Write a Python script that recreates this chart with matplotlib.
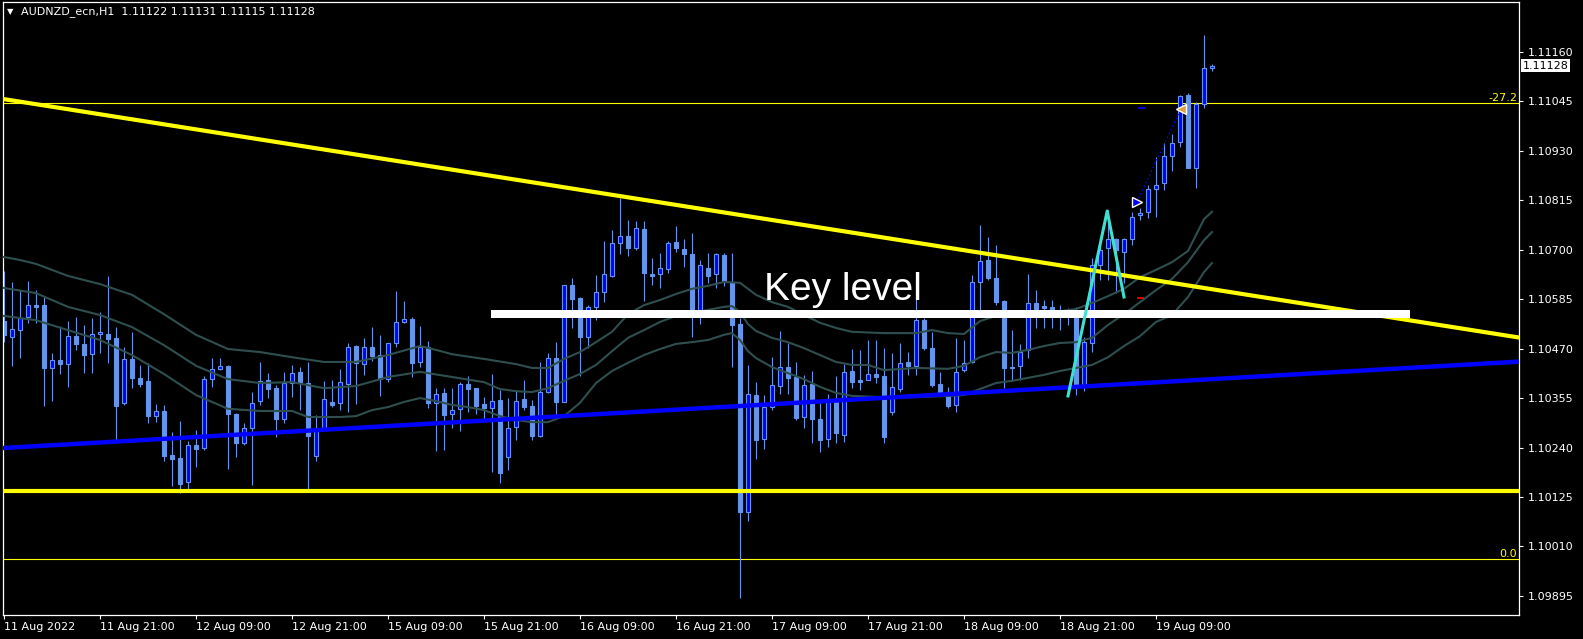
import matplotlib
matplotlib.use("Agg")
import matplotlib.pyplot as plt
from matplotlib.patches import Rectangle

# AUDNZD_ecn H1 bars (index 0 = 11 Aug 2022 09:00)
opens = [1.10534, 1.10497, 1.10513, 1.10543, 1.10571, 1.10571, 1.10424, 1.10443, 1.10434, 1.10499,
         1.10481, 1.10457, 1.10504, 1.10504, 1.10494, 1.10343, 1.10445, 1.10401, 1.10395, 1.10313,
         1.10325, 1.10222, 1.10215, 1.10160, 1.10245, 1.10238, 1.10399, 1.10422, 1.10429, 1.10318,
         1.10250, 1.10285, 1.10348, 1.10397, 1.10378, 1.10306, 1.10390, 1.10415, 1.10390, 1.10220,
         1.10285, 1.10345, 1.10343, 1.10388, 1.10476, 1.10434, 1.10474, 1.10455, 1.10399, 1.10483,
         1.10532, 1.10539, 1.10438, 1.10474, 1.10343, 1.10366, 1.10318, 1.10329, 1.10388, 1.10378,
         1.10341, 1.10331, 1.10350, 1.10218, 1.10287, 1.10352, 1.10336, 1.10266, 1.10369, 1.10448,
         1.10345, 1.10618, 1.10587, 1.10497, 1.10567, 1.10602, 1.10639, 1.10716, 1.10732, 1.10704,
         1.10748, 1.10643, 1.10643, 1.10655, 1.10718, 1.10702, 1.10690, 1.10559, 1.10657, 1.10643,
         1.10688, 1.10625, 1.10527, 1.10090, 1.10362, 1.10259, 1.10334, 1.10383, 1.10427, 1.10404,
         1.10311, 1.10388, 1.10306, 1.10259, 1.10345, 1.10269, 1.10418, 1.10397, 1.10397, 1.10411,
         1.10406, 1.10322, 1.10376, 1.10438, 1.10429, 1.10536, 1.10471, 1.10388, 1.10369, 1.10338,
         1.10420, 1.10438, 1.10625, 1.10676, 1.10634, 1.10580, 1.10427, 1.10429, 1.10466, 1.10576,
         1.10569, 1.10567, 1.10546, 1.10553, 1.10553, 1.10385, 1.10483, 1.10664, 1.10704, 1.10725,
         1.10695, 1.10725, 1.10781, 1.10788, 1.10841, 1.10855, 1.10918, 1.10950, 1.11060, 1.10890,
         1.11039, 1.11122]
highs = [1.10650, 1.10624, 1.10606, 1.10627, 1.10606, 1.10590, 1.10459, 1.10522, 1.10534, 1.10543,
         1.10524, 1.10540, 1.10554, 1.10638, 1.10520, 1.10474, 1.10508, 1.10431, 1.10436, 1.10341,
         1.10338, 1.10275, 1.10302, 1.10255, 1.10280, 1.10406, 1.10447, 1.10447, 1.10431, 1.10320,
         1.10297, 1.10369, 1.10438, 1.10413, 1.10385, 1.10415, 1.10431, 1.10427, 1.10438, 1.10315,
         1.10395, 1.10397, 1.10422, 1.10483, 1.10478, 1.10494, 1.10520, 1.10501, 1.10483, 1.10604,
         1.10580, 1.10543, 1.10522, 1.10488, 1.10378, 1.10378, 1.10378, 1.10392, 1.10406, 1.10378,
         1.10357, 1.10411, 1.10373, 1.10355, 1.10373, 1.10397, 1.10350, 1.10438, 1.10459, 1.10485,
         1.10618, 1.10634, 1.10590, 1.10571, 1.10641, 1.10720, 1.10745, 1.10820, 1.10769, 1.10767,
         1.10767, 1.10681, 1.10692, 1.10720, 1.10755, 1.10725, 1.10739, 1.10676, 1.10692, 1.10692,
         1.10692, 1.10692, 1.10541, 1.10431, 1.10392, 1.10362, 1.10450, 1.10511, 1.10483, 1.10438,
         1.10408, 1.10418, 1.10343, 1.10364, 1.10406, 1.10434, 1.10469, 1.10466, 1.10490, 1.10490,
         1.10471, 1.10459, 1.10483, 1.10462, 1.10634, 1.10541, 1.10508, 1.10415, 1.10381, 1.10494,
         1.10490, 1.10641, 1.10757, 1.10730, 1.10711, 1.10583, 1.10513, 1.10480, 1.10643, 1.10606,
         1.10583, 1.10583, 1.10571, 1.10564, 1.10567, 1.10497, 1.10681, 1.10722, 1.10792, 1.10727,
         1.10727, 1.10788, 1.10797, 1.10850, 1.10915, 1.10948, 1.10969, 1.11060, 1.11064, 1.11043,
         1.11199, 1.11131]
lows = [1.10485, 1.10429, 1.10447, 1.10529, 1.10529, 1.10336, 1.10348, 1.10411, 1.10381, 1.10466,
        1.10413, 1.10413, 1.10459, 1.10436, 1.10257, 1.10338, 1.10378, 1.10381, 1.10297, 1.10299,
        1.10209, 1.10150, 1.10134, 1.10141, 1.10195, 1.10234, 1.10381, 1.10420, 1.10190, 1.10218,
        1.10245, 1.10153, 1.10338, 1.10355, 1.10264, 1.10297, 1.10357, 1.10327, 1.10144, 1.10209,
        1.10280, 1.10334, 1.10327, 1.10322, 1.10341, 1.10408, 1.10441, 1.10359, 1.10392, 1.10474,
        1.10529, 1.10404, 1.10427, 1.10331, 1.10232, 1.10234, 1.10285, 1.10278, 1.10322, 1.10318,
        1.10304, 1.10183, 1.10157, 1.10187, 1.10257, 1.10327, 1.10257, 1.10264, 1.10366, 1.10315,
        1.10345, 1.10518, 1.10406, 1.10471, 1.10536, 1.10578, 1.10636, 1.10690, 1.10685, 1.10699,
        1.10580, 1.10618, 1.10611, 1.10646, 1.10695, 1.10660, 1.10497, 1.10527, 1.10622, 1.10611,
        1.10615, 1.10427, 1.09890, 1.10069, 1.10213, 1.10236, 1.10327, 1.10364, 1.10364, 1.10304,
        1.10285, 1.10250, 1.10229, 1.10241, 1.10250, 1.10253, 1.10378, 1.10373, 1.10397, 1.10390,
        1.10250, 1.10315, 1.10369, 1.10408, 1.10408, 1.10466, 1.10381, 1.10366, 1.10331, 1.10322,
        1.10415, 1.10436, 1.10559, 1.10629, 1.10571, 1.10378, 1.10397, 1.10397, 1.10448, 1.10518,
        1.10518, 1.10518, 1.10513, 1.10525, 1.10362, 1.10371, 1.10462, 1.10629, 1.10629, 1.10599,
        1.10622, 1.10711, 1.10769, 1.10774, 1.10776, 1.10838, 1.10883, 1.10939, 1.10890, 1.10843,
        1.11029, 1.11115]
closes = [1.10501, 1.10515, 1.10540, 1.10571, 1.10567, 1.10424, 1.10443, 1.10434, 1.10499, 1.10481,
          1.10454, 1.10504, 1.10508, 1.10492, 1.10336, 1.10445, 1.10401, 1.10388, 1.10313, 1.10325,
          1.10220, 1.10213, 1.10155, 1.10245, 1.10236, 1.10399, 1.10422, 1.10429, 1.10318, 1.10250,
          1.10285, 1.10343, 1.10395, 1.10376, 1.10306, 1.10390, 1.10413, 1.10392, 1.10266, 1.10285,
          1.10352, 1.10338, 1.10392, 1.10474, 1.10436, 1.10474, 1.10452, 1.10399, 1.10483, 1.10532,
          1.10539, 1.10436, 1.10474, 1.10343, 1.10364, 1.10315, 1.10327, 1.10388, 1.10376, 1.10336,
          1.10331, 1.10348, 1.10180, 1.10285, 1.10348, 1.10334, 1.10266, 1.10369, 1.10448, 1.10345,
          1.10618, 1.10585, 1.10497, 1.10567, 1.10602, 1.10643, 1.10716, 1.10732, 1.10704, 1.10750,
          1.10646, 1.10639, 1.10657, 1.10716, 1.10704, 1.10690, 1.10559, 1.10664, 1.10639, 1.10690,
          1.10625, 1.10525, 1.10090, 1.10364, 1.10257, 1.10334, 1.10385, 1.10427, 1.10401, 1.10308,
          1.10385, 1.10306, 1.10257, 1.10345, 1.10273, 1.10415, 1.10392, 1.10392, 1.10411, 1.10404,
          1.10264, 1.10381, 1.10436, 1.10429, 1.10536, 1.10471, 1.10385, 1.10369, 1.10336, 1.10415,
          1.10436, 1.10625, 1.10674, 1.10634, 1.10578, 1.10424, 1.10424, 1.10462, 1.10576, 1.10562,
          1.10564, 1.10546, 1.10553, 1.10548, 1.10385, 1.10485, 1.10664, 1.10699, 1.10725, 1.10699,
          1.10725, 1.10776, 1.10785, 1.10841, 1.10850, 1.10918, 1.10948, 1.11057, 1.10890, 1.11039,
          1.11122, 1.11128]

xtick_bars = [0, 12, 24, 36, 48, 60, 72, 84, 96, 108, 120, 132, 144]
xtick_labels = ['11 Aug 2022', '11 Aug 21:00', '12 Aug 09:00', '12 Aug 21:00', '15 Aug 09:00',
                '15 Aug 21:00', '16 Aug 09:00', '16 Aug 21:00', '17 Aug 09:00', '17 Aug 21:00',
                '18 Aug 09:00', '18 Aug 21:00', '19 Aug 09:00']
price_ticks = [1.11160, 1.11045, 1.10930, 1.10815, 1.10700, 1.10585,
               1.10470, 1.10355, 1.10240, 1.10125, 1.10010, 1.09895]

# the three grey band lines
upper_bar = [0, 2, 4, 8, 12, 16, 20, 24, 28, 32, 36, 40, 44, 48, 52, 54, 56, 60, 64, 66,
             68, 70, 72, 74, 76, 78, 80, 82, 84, 86, 88, 90, 92, 94, 96, 98, 100, 102, 104, 106,
             110, 114, 116, 118, 120, 122, 124, 126, 128, 130, 132, 134, 136, 138, 140, 142, 144, 146, 148, 150,
             151]
upper_val = [1.10683, 1.10676, 1.10667, 1.10639, 1.10620, 1.10595, 1.10550, 1.10502, 1.10469, 1.10462,
             1.10450, 1.10439, 1.10439, 1.10455, 1.10476, 1.10467, 1.10457, 1.10446, 1.10434, 1.10425,
             1.10425, 1.10446, 1.10462, 1.10485, 1.10509, 1.10550, 1.10571, 1.10583, 1.10597, 1.10609,
             1.10616, 1.10625, 1.10623, 1.10595, 1.10578, 1.10567, 1.10548, 1.10530, 1.10518, 1.10509,
             1.10506, 1.10506, 1.10513, 1.10506, 1.10504, 1.10534, 1.10546, 1.10548, 1.10550, 1.10555,
             1.10557, 1.10562, 1.10576, 1.10592, 1.10609, 1.10636, 1.10653, 1.10671, 1.10697, 1.10771,
             1.10788]
mid_bar = [0, 4, 8, 12, 16, 20, 24, 28, 32, 36, 40, 44, 48, 52, 56, 60, 62, 64, 66, 68,
           70, 72, 74, 76, 78, 80, 82, 84, 86, 88, 90, 91, 92, 93, 94, 96, 98, 100, 102, 104,
           106, 108, 110, 114, 118, 120, 122, 124, 126, 128, 130, 132, 134, 136, 138, 140, 142, 144, 146, 148,
           150, 151]
mid_val = [1.10611, 1.10599, 1.10567, 1.10548, 1.10520, 1.10478, 1.10430, 1.10399, 1.10390, 1.10392,
           1.10378, 1.10383, 1.10404, 1.10416, 1.10404, 1.10392, 1.10376, 1.10371, 1.10369, 1.10378,
           1.10395, 1.10411, 1.10432, 1.10464, 1.10495, 1.10513, 1.10532, 1.10546, 1.10553, 1.10560,
           1.10567, 1.10569, 1.10555, 1.10527, 1.10511, 1.10495, 1.10485, 1.10471, 1.10455, 1.10439,
           1.10432, 1.10432, 1.10420, 1.10425, 1.10423, 1.10430, 1.10450, 1.10462, 1.10460, 1.10467,
           1.10476, 1.10483, 1.10485, 1.10495, 1.10525, 1.10550, 1.10578, 1.10606, 1.10632, 1.10671,
           1.10722, 1.10741]
lower_bar = [0, 4, 8, 12, 16, 20, 24, 28, 32, 36, 38, 42, 44, 46, 48, 50, 52, 54, 56, 58,
             60, 62, 64, 66, 68, 70, 72, 74, 76, 78, 80, 82, 84, 86, 88, 90, 91, 92, 93, 94,
             96, 98, 100, 102, 104, 106, 110, 114, 118, 120, 122, 124, 126, 128, 130, 132, 134, 136, 138, 140,
             142, 144, 146, 148, 150, 151]
lower_val = [1.10546, 1.10536, 1.10513, 1.10490, 1.10455, 1.10411, 1.10362, 1.10330, 1.10325, 1.10325,
             1.10311, 1.10311, 1.10313, 1.10327, 1.10334, 1.10346, 1.10355, 1.10348, 1.10339, 1.10334,
             1.10327, 1.10313, 1.10304, 1.10299, 1.10299, 1.10313, 1.10344, 1.10390, 1.10418, 1.10437,
             1.10455, 1.10469, 1.10481, 1.10485, 1.10490, 1.10502, 1.10506, 1.10490, 1.10464, 1.10448,
             1.10427, 1.10413, 1.10399, 1.10381, 1.10367, 1.10360, 1.10357, 1.10357, 1.10360, 1.10362,
             1.10376, 1.10390, 1.10395, 1.10402, 1.10409, 1.10418, 1.10425, 1.10432, 1.10450, 1.10476,
             1.10499, 1.10532, 1.10548, 1.10590, 1.10648, 1.10669]

# drawn objects (bar index, price)
down_trend = [(0, 1.11050), (150, 1.10611)]
up_trend = [(0, 1.10239), (150, 1.10398)]
support_level = 1.10140
fib_names = ['-27.2', '0.0']
fib_prices = [1.11041, 1.09980]
key_bars = [60.9, 175.8]
key_prices = [1.10541, 1.10559]
zigzag_bars = [133, 137.9, 140]
zigzag_prices = [1.10360, 1.10790, 1.10590]
trade_bars = [141.6, 147.1]
trade_prices = [1.10811, 1.11027]
take_profit = 1.11029
stop_loss = 1.10588

CORN = '#6495ED'
BLUE = '#0000FF'
GREY = '#2F4F4F'
YEL = '#FFFF00'

W, H = 1583, 639
fig = plt.figure(figsize=(W / 100, H / 100), dpi=100, facecolor='black')
ax = fig.add_axes([3 / W, 24 / H, 1516 / W, 613 / H])
ax.set_facecolor('black')
ax.set_xlim(-0.125, 189.375)
ax.set_ylim(1.098506, 1.112759)

bars = list(range(len(closes)))
bottoms = [min(o, c) for o, c in zip(opens, closes)]
heights = [abs(c - o) for o, c in zip(opens, closes)]
fills = [BLUE if c >= o else CORN for o, c in zip(opens, closes)]
ax.vlines(bars, lows, highs, color=CORN, lw=0.8, zorder=2)
ax.bar(bars, heights, 0.6, bottom=bottoms, color=fills, edgecolor=CORN, linewidth=0.8, zorder=2.1)

for bx, by in [(upper_bar, upper_val), (mid_bar, mid_val), (lower_bar, lower_val)]:
    ax.plot(bx, by, color=GREY, lw=1.5, zorder=3)

for name, p in zip(fib_names, fib_prices):
    ax.axhline(p, color=YEL, lw=0.8, zorder=1.5)
    ax.text(0.9988, p, name, transform=ax.get_yaxis_transform(), ha='right', va='bottom',
            color=YEL, fontsize=8)

ax.axhline(support_level, color=YEL, lw=3, zorder=4)
ax.axline(down_trend[0], down_trend[1], color=YEL, lw=3, zorder=4)
ax.axline(up_trend[0], up_trend[1], color=BLUE, lw=3.2, zorder=4)

ax.add_patch(Rectangle((key_bars[0], key_prices[0]), key_bars[1] - key_bars[0],
                       key_prices[1] - key_prices[0], facecolor='white', edgecolor='none', zorder=4))
ax.text(95, 1.10583, 'Key level', fontsize=28, color='white', family='Liberation Sans',
        va='baseline', zorder=5)

ax.plot(zigzag_bars, zigzag_prices, color='#40E0D0', lw=2.2, zorder=5)

# trade markers
ax.plot(trade_bars, trade_prices, color=BLUE, lw=1, ls=(0, (1, 2)), zorder=5)
ax.plot([trade_bars[0]], [trade_prices[0]], marker='>', ms=7, mfc=BLUE, mec='white', mew=1, zorder=6)
ax.plot([trade_bars[1]], [trade_prices[1]], marker='<', ms=7, mfc='#E0A040', mec='white', mew=1, zorder=6)
ax.hlines(take_profit, 141.7, 142.6, color=BLUE, lw=1.2, zorder=5)
ax.hlines(stop_loss, 141.6, 142.5, color='red', lw=1.2, zorder=5)

for s in ax.spines.values():
    s.set_color('white')
    s.set_linewidth(0.9)

ax.yaxis.tick_right()
ax.set_yticks(price_ticks)
ax.set_yticklabels(['%.5f' % p for p in price_ticks])
ax.tick_params(axis='y', colors='white', labelsize=8, length=3, width=0.8, pad=3)
ax.set_xticks(xtick_bars)
ax.set_xticklabels(xtick_labels, ha='left')
ax.tick_params(axis='x', colors='white', labelsize=8, length=3, width=0.8, pad=2)

# current price box
ax.text(1.0022, closes[-1], '%.5f' % closes[-1], transform=ax.get_yaxis_transform(),
        ha='left', va='center', fontsize=8, color='black', clip_on=False,
        bbox=dict(facecolor='white', edgecolor='none', pad=1.2))

title = 'AUDNZD_ecn,H1  %.5f %.5f %.5f %.5f' % (opens[-1], highs[-1], lows[-1], closes[-1])
fig.text(7 / W, 1 - 12 / H, '\u25bc', color='white', fontsize=6, va='center')
fig.text(21 / W, 1 - 12 / H, title, color='white', fontsize=8, va='center')

fig.savefig('out.png', dpi=100, facecolor='black')
